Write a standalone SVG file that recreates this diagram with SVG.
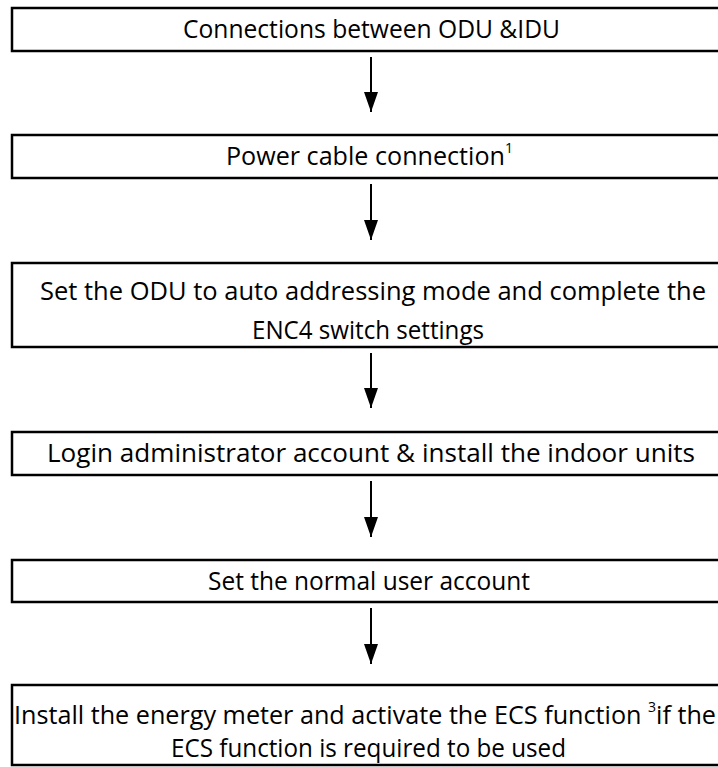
<svg xmlns="http://www.w3.org/2000/svg" width="718" height="767" viewBox="0 0 718 767">
<style>
.box{fill:#fff;stroke:#000;stroke-width:2.5}
.t{font-family:"Open Sans","Liberation Sans",sans-serif;font-size:25px;fill:#000}
.s{font-size:14px}
.c{stroke:#000;stroke-width:2;fill:none}
</style>
<defs>
<marker id="ah" markerWidth="20" markerHeight="14" refX="20" refY="7" orient="auto" markerUnits="userSpaceOnUse" viewBox="0 0 20 14">
<path d="M0,0 L20,7 L0,14 Z" fill="#000"/>
</marker>
</defs>
<rect width="718" height="767" fill="#fff"/>
<g id="n1"><rect class="box" x="12" y="8" width="720" height="43"/>
<text class="t" x="183" y="38" textLength="377" lengthAdjust="spacingAndGlyphs">Connections between ODU &amp;IDU</text></g>
<g id="n2"><rect class="box" x="12" y="135" width="720" height="43"/>
<text class="t" x="226" y="165" textLength="287" lengthAdjust="spacingAndGlyphs">Power cable connection<tspan class="s" dy="-12">1</tspan></text></g>
<g id="n3"><rect class="box" x="12" y="263" width="720" height="84"/>
<text class="t" x="40" y="300" textLength="666" lengthAdjust="spacingAndGlyphs">Set the ODU to auto addressing mode and complete the</text>
<text class="t" x="252" y="339" textLength="232" lengthAdjust="spacingAndGlyphs">ENC4 switch settings</text></g>
<g id="n4"><rect class="box" x="12" y="432" width="720" height="43"/>
<text class="t" x="47" y="462" textLength="648" lengthAdjust="spacingAndGlyphs">Login administrator account &amp; install the indoor units</text></g>
<g id="n5"><rect class="box" x="12" y="560" width="720" height="42"/>
<text class="t" x="208" y="590" textLength="322" lengthAdjust="spacingAndGlyphs">Set the normal user account</text></g>
<g id="n6"><rect class="box" x="12" y="685" width="720" height="80"/>
<text class="t" x="14" y="724" textLength="702" lengthAdjust="spacingAndGlyphs">Install the energy meter and activate the ECS function <tspan class="s" dy="-12">3</tspan><tspan dy="12">if the</tspan></text>
<text class="t" x="171" y="757" textLength="395" lengthAdjust="spacingAndGlyphs">ECS function is required to be used</text></g>
<g id="connectors">
<line class="c" x1="371" y1="57" x2="371" y2="112" marker-end="url(#ah)"/>
<line class="c" x1="371" y1="184" x2="371" y2="240" marker-end="url(#ah)"/>
<line class="c" x1="371" y1="353" x2="371" y2="408" marker-end="url(#ah)"/>
<line class="c" x1="371" y1="481" x2="371" y2="537" marker-end="url(#ah)"/>
<line class="c" x1="371" y1="608" x2="371" y2="664" marker-end="url(#ah)"/>
</g>
</svg>
